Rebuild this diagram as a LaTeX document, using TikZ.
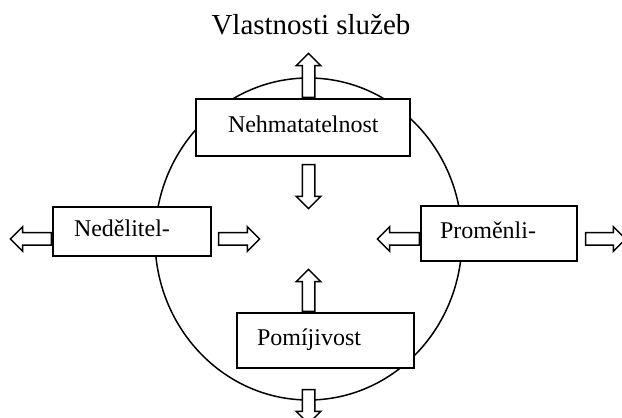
\documentclass[tikz,border=0pt]{standalone}
\usepackage{fontspec}
\setmainfont{Liberation Serif}
\usetikzlibrary{shapes.geometric,shapes.arrows,positioning}

\begin{document}
\begin{tikzpicture}[
    x=1pt, y=1pt,
    every node/.style={font=\fontsize{12}{14}\selectfont},
    prop/.style={
        draw,
        line width=0.9pt,
        fill=white,
        align=left,
        inner ysep=0pt,
        text depth=3pt
    },
    blockarr/.style={
        single arrow,
        draw,
        line width=0.75pt,
        fill=white,
        inner sep=2.75pt,
        minimum width=11.5pt,
        single arrow head extend=3pt,
        anchor=tail
    }
]
\useasboundingbox (0,0) rectangle (311,209);

\node[ellipse, draw, line width=0.75pt, minimum width=153.5pt, minimum height=161pt] (ell) at (154.25,89.5) {};

\node[font=\fontsize{14.5}{17}\selectfont, anchor=base] (title) at (155.5,191.5) {Vlastnosti služeb};

\node[prop, minimum height=28.5pt, text width=75pt, inner xsep=16pt] (nehm) at (151.5,145.25) {Nehmatatelnost};
\node[prop, minimum height=24.5pt, text width=58pt, inner xsep=10.5pt] (nedel) at (66,93.25) {Nedělitel-};
\node[prop, minimum height=27.5pt, text width=59pt, inner xsep=9.5pt] (promen) at (249.5,92.25) {Proměnli-};
\node[prop, minimum height=27.5pt, text width=68.5pt, inner xsep=10pt] (pomij) at (162.75,38.75) {Pomíjivost};

\node[blockarr, shape border rotate=90, minimum height=22pt] (upN) at (nehm.north -| ell.center) {};
\node[blockarr, shape border rotate=270, minimum height=22pt] (downN) at ([yshift=-3.5pt]nehm.south -| ell.center) {};
\node[blockarr, shape border rotate=90, minimum height=21pt] (upP) at (pomij.north -| ell.center) {};
\node[blockarr, shape border rotate=270, minimum height=17pt] (downP) at ([yshift=-10pt]pomij.south -| ell.center) {};

\node[blockarr, shape border rotate=180, minimum height=20.5pt] (leftNed) at (nedel.west |- ell.center) {};
\node[blockarr, minimum height=20.5pt] (rightNed) at ([xshift=3pt]nedel.east |- ell.center) {};
\node[blockarr, shape border rotate=180, minimum height=21pt] (leftProm) at (promen.west |- ell.center) {};
\node[blockarr, minimum height=20pt] (rightProm) at ([xshift=3.5pt]promen.east |- ell.center) {};

\end{tikzpicture}
\end{document}
